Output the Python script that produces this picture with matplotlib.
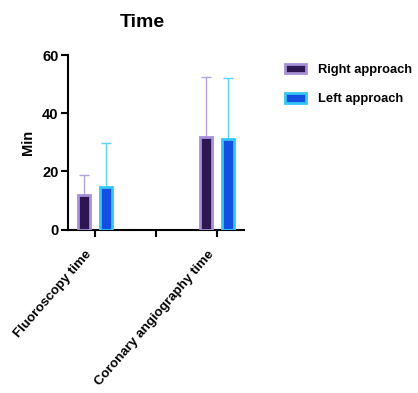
import matplotlib
matplotlib.use("Agg")
import matplotlib.pyplot as plt
import matplotlib.transforms as mtrans
import numpy as np

plt.rcParams['font.family'] = ['Liberation Sans', 'DejaVu Sans']
plt.rcParams['font.weight'] = 'bold'

categories = ["Fluoroscopy time", "", "Coronary angiography time"]
series_names = ["Right approach", "Left approach"]
right_means = [12.0, np.nan, 32.0]
right_sd = [6.7, np.nan, 20.3]
left_means = [14.7, np.nan, 31.3]
left_sd = [15.1, np.nan, 20.7]

fills = ["#2e1652", "#1450e0"]
edges = ["#a690d8", "#34c6f6"]
err_colors = ["#b4a2e0", "#5cd2fa"]

fig = plt.figure(figsize=(4.18, 3.93), dpi=100)
ax = fig.add_axes([0.163, 0.4155, 0.421, 0.4445])

x = np.arange(len(categories))
w = 0.2
off = 0.18
for i, (m, s) in enumerate([(right_means, right_sd), (left_means, left_sd)]):
    xs = x + (-off if i == 0 else off)
    m = np.array(m); s = np.array(s)
    ok = ~np.isnan(m)
    ax.bar(xs[ok], m[ok], width=w, color=fills[i], edgecolor=edges[i], linewidth=2.0,
           label=series_names[i], zorder=3)
    ax.errorbar(xs[ok], m[ok], yerr=[np.zeros(ok.sum()), s[ok]], fmt='none',
                ecolor=err_colors[i], elinewidth=1.0, capsize=3.5, capthick=1.0, zorder=2)

ax.set_xlim(-0.44, 2.44)
ax.set_ylim(0, 60)
ax.set_yticks([0, 20, 40, 60])
ax.set_xticks(x)
ax.set_xticklabels([""] * len(categories))
shift = mtrans.ScaledTranslation(-10 / 100, -19 / 100, fig.dpi_scale_trans)
for xi, cat in zip(x, categories):
    if cat:
        ax.text(xi, 0, cat, transform=ax.get_xaxis_transform() + shift,
                rotation=49, ha='right', va='top', rotation_mode='anchor',
                fontsize=9.6, fontweight='bold', clip_on=False)
for lab in ax.get_yticklabels():
    lab.set_fontsize(10.5)
    lab.set_fontweight('bold')
ax.spines['top'].set_visible(False)
ax.spines['right'].set_visible(False)
ax.spines['left'].set_linewidth(1.5)
ax.spines['bottom'].set_linewidth(1.5)
ax.tick_params(axis='both', width=1.5, length=5, direction='out')
ax.tick_params(axis='y', pad=2)
ax.set_ylabel("Min", fontsize=10.5, fontweight='bold', labelpad=5)
fig.text(0.34, 0.943, "Time", ha='center', va='center', fontsize=14, fontweight='bold')

leg = fig.legend(loc='upper left', bbox_to_anchor=(0.655, 0.868), frameon=False,
                 prop={'size': 9.3, 'weight': 'bold'}, handlelength=1.6, handleheight=0.8,
                 labelspacing=1.3, handletextpad=0.9)

fig.savefig("out.png", dpi=100)
